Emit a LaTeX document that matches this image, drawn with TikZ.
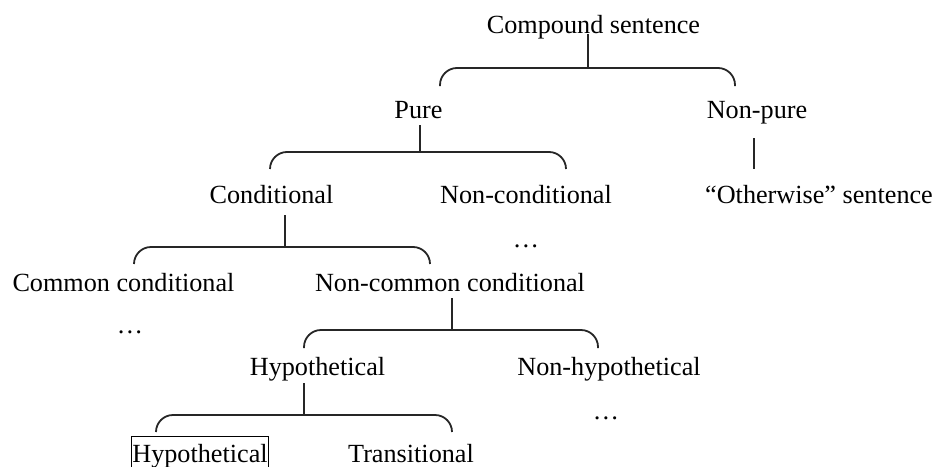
\documentclass[tikz,border=0pt]{standalone}
\usepackage{fontspec}
\setmainfont{Liberation Serif}
\begin{document}
\begin{tikzpicture}[x=0.5pt,y=-0.5pt,
  label/.style={anchor=base,inner sep=0pt,font=\fontsize{13.1pt}{15pt}\selectfont},
  boxed/.style={label,draw,line width=0.4pt,inner xsep=0.6pt,inner ysep=3.6pt},
  link/.style={line width=0.9pt,draw=black!85},
  fork/.style={link,rounded corners=8.5pt}]
\useasboundingbox (0,0) rectangle (936,466);
\clip (0,0) rectangle (936,466);

% category labels
\node[label] (cs)   at (593.5,33)  {Compound sentence};
\node[label] (pure) at (418.5,118) {Pure};
\node[label] (np)   at (757,118)   {Non-pure};
\node[label] (cond) at (271.5,203) {Conditional};
\node[label] (ncd)  at (526,203)   {Non-conditional};
\node[label] (oth)  at (819,203)   {“Otherwise” sentence};
\node[label] (d1)   at (526,247)   {…};
\node[label] (com)  at (123.5,291) {Common conditional};
\node[label] (ncom) at (450,291)   {Non-common conditional};
\node[label] (d2)   at (130,333)   {…};
\node[label] (hyp)  at (317.5,375) {Hypothetical};
\node[label] (nhyp) at (609,375)   {Non-hypothetical};
\node[label] (d3)   at (606,419)   {…};
\node[boxed] (hyp2) at (200,462)   {Hypothetical};
\node[label] (tr)   at (411,462)   {Transitional};

% junction points and bracket ends
\coordinate (j1) at (588,68);  \coordinate (l1) at (440,86);  \coordinate (r1) at (735,86);
\coordinate (j2) at (420,152); \coordinate (l2) at (270,169); \coordinate (r2) at (566,169);
\coordinate (j3) at (285,247); \coordinate (l3) at (134,264); \coordinate (r3) at (430,264);
\coordinate (j4) at (452,330); \coordinate (l4) at (304,348); \coordinate (r4) at (598,348);
\coordinate (j5) at (304,415); \coordinate (l5) at (156,432); \coordinate (r5) at (452,432);
\coordinate (e6) at (754,169);

% stems from each parent down to its bracket
\draw[link] (cs.base -| j1) ++(0,1) -- (j1);
\draw[link] (pure.base -| j2) ++(0,7) -- (j2);
\draw[link] (cond.base -| j3) ++(0,12) -- (j3);
\draw[link] (ncom.base -| j4) ++(0,7) -- (j4);
\draw[link] (hyp.base -| j5) ++(0,8) -- (j5);
\draw[link] (np.base -| e6) ++(0,20) -- (e6);

% brackets spanning the children
\draw[fork] (l1) |- (j1) -| (r1);
\draw[fork] (l2) |- (j2) -| (r2);
\draw[fork] (l3) |- (j3) -| (r3);
\draw[fork] (l4) |- (j4) -| (r4);
\draw[fork] (l5) |- (j5) -| (r5);
\end{tikzpicture}
\end{document}
